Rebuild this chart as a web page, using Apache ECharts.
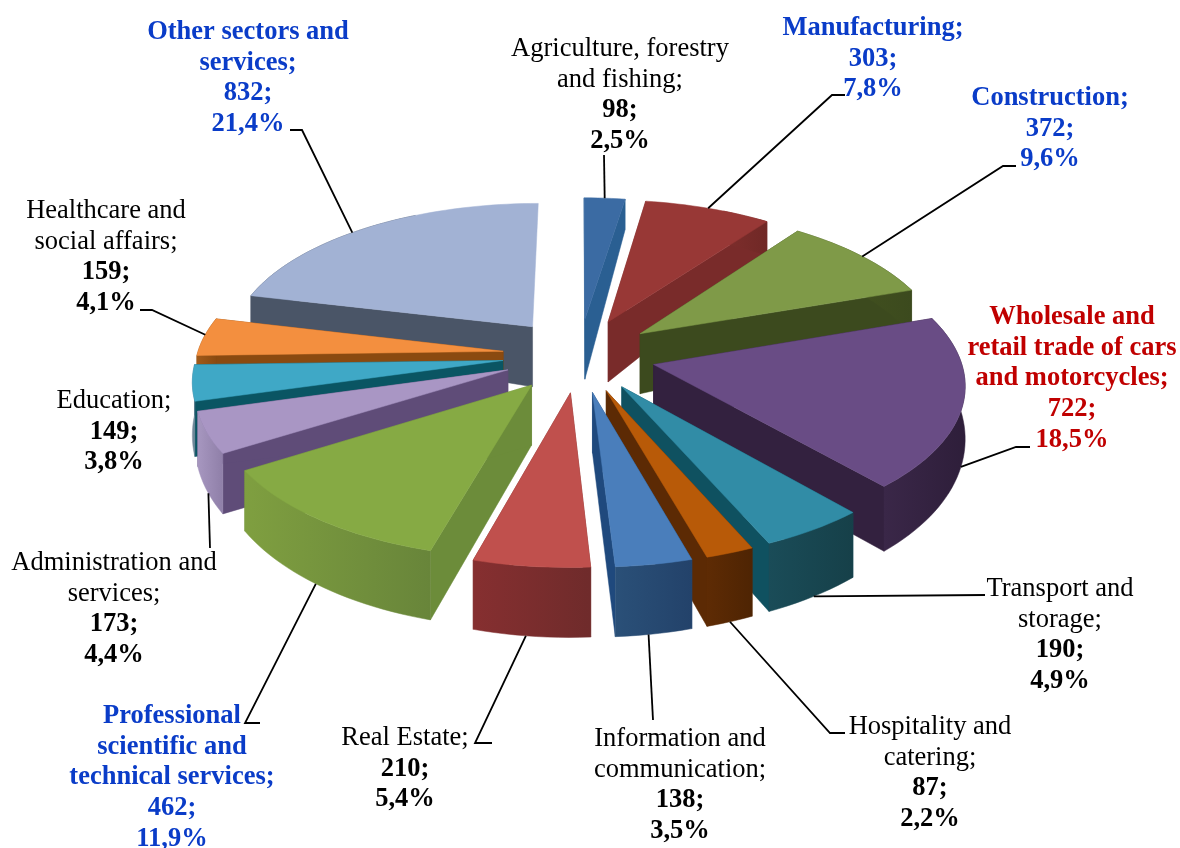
<!DOCTYPE html>
<html><head><meta charset="utf-8">
<style>html,body{margin:0;padding:0;background:#fff}#c{width:1180px;height:848px}</style>
<script src="https://cdn.jsdelivr.net/npm/echarts@6/dist/echarts.min.js"></script>
</head><body><div id="c"></div>
<script>
// ---- data ----
const categories = [
  ["Agriculture, forestry","and fishing;"],
  ["Manufacturing;"],
  ["Construction;"],
  ["Wholesale and","retail trade of cars","and motorcycles;"],
  ["Transport and","storage;"],
  ["Hospitality and","catering;"],
  ["Information and","communication;"],
  ["Real Estate;"],
  ["Professional","scientific and","technical services;"],
  ["Administration and","services;"],
  ["Education;"],
  ["Healthcare and","social affairs;"],
  ["Other sectors and","services;"]
];
const values = [98,303,372,722,190,87,138,210,462,173,149,159,832];
const shares = ["2,5%","7,8%","9,6%","18,5%","4,9%","2,2%","3,5%","5,4%","11,9%","4,4%","3,8%","4,1%","21,4%"];
// ---- styles ----
const topColors   = ["#3b6ba3","#983836","#7f9a48","#694c85","#318ca6","#b85a08","#4a7ebb","#c0504d","#86aa44","#a996c4","#3fa8c6","#f38f3f","#a2b2d4"];
const innerColors = ["#2a5f92","#792b2a","#3c4a1e","#33213f","#0f5160","#5c2a04","#1f497d","#7c2e2d","#6c8c3a","#5f4c78","#0a5563","#8a4a10","#4a5567"];
const outerLight  = ["#2f5f90","#7e2e2c","#46561f","#3a2748","#1a4c58","#5e2b04","#2a5078","#862f30","#7f9f40","#a797c0","#7f8fa0","#a05a1a","#4a5567"];
const outerDark   = ["#2a5a8c","#702826","#3c4a1e","#2e1e3a","#164049","#4e2403","#23426a","#6f2b2b","#68853a","#8f7fa8","#5f7f90","#8a4a10","#4a5567"];
const labelFill   = ["#000","#0a3cc8","#0a3cc8","#c00000","#000","#000","#000","#000","#0a3cc8","#000","#000","#000","#0a3cc8"];
const labelBold   = [false,true,true,true,false,false,false,false,true,false,false,false,true];
const labelCenter = [620,873,1050,1072,1060,930,680,405,172,114,114,106,248];
const labelFirstY = [49,28,98,317,589,727,739,738,716,563,401,211,32];
const LINE = 30.8, FONT = 26.5;
// leader: elbow points (label side), then slice index-relative rim fraction and whether it lands on the wall's lower edge
const leaders = [
  {pts:[[604,155]],frac:.47,low:false},
  {pts:[[845,95],[832,95]],frac:.5,low:false},
  {pts:[[1016,166],[1003,166]],frac:.5,low:false},
  {pts:[[1030,447],[1016,447]],frac:.55,low:true},
  {pts:[[985,595]],frac:.5,low:true},
  {pts:[[845,733],[830,733]],frac:.5,low:true},
  {pts:[[653,720]],frac:.5,low:true},
  {pts:[[492,743],[475,743]],frac:.5,low:true},
  {pts:[[260,723],[245,723]],frac:.5,low:true},
  {pts:[[210,548]],frac:.4,low:true},
  null,
  {pts:[[140,310],[152,310]],frac:.5,low:false},
  {pts:[[290,130],[302,130]],frac:.45,low:false}
];
// ---- projection of the tilted pie ----
const CX=579, CY=355, RX=306, RY=148, PERSP=.12, EXPLODE=.25;
const total = values.reduce((a,b)=>a+b,0);
const starts=[]; values.reduce((a,v,i)=>{starts[i]=a;return a+v/total*2*Math.PI;},0);
function proj(dx,dy,r,ang){
  const px=dx+r*Math.sin(ang), py=dy-r*Math.cos(ang), s=1+PERSP*py;
  return [CX+RX*px*s, CY+RY*py*s];
}
const apexH=60;
const rimH=a=>50-20*Math.cos(a);
function sliceGeom(i){
  const a0=starts[i], a1=a0+values[i]/total*2*Math.PI, m=(a0+a1)/2;
  const dx=EXPLODE*Math.sin(m), dy=-EXPLODE*Math.cos(m);
  const n=Math.max(6,Math.round((a1-a0)/.03));
  const rim=[],low=[],wallTop=[],wallLow=[];
  for(let k=0;k<=n;k++){
    const a=a0+(a1-a0)*k/n, p=proj(dx,dy,1,a), q=[p[0],p[1]+rimH(a)];
    rim.push(p); low.push(q);
    // the curved wall of the far part of the pie looks away from the viewer
    if(Math.cos(a)<.9){wallTop.push(p);wallLow.push(q);}
  }
  const apex=proj(dx,dy,0,0), apexLow=[apex[0],apex[1]+apexH];
  return {a0,a1,dx,dy,rim,low,wallTop,wallLow,apex,apexLow,depth:dy};
}
const geoms=values.map((v,i)=>sliceGeom(i));
const order=geoms.map((g,i)=>i).sort((a,b)=>geoms[a].depth-geoms[b].depth);
function renderSlice(params,api){
  const i=api.value(0), g=geoms[i], z=order.indexOf(i)*10+1;
  const poly=(points,fill,dz)=>({type:'polygon',shape:{points},z2:z+dz,style:{fill,stroke:fill,lineWidth:.5}});
  const grad={type:'linear',x:0,y:0,x2:1,y2:0,colorStops:[{offset:0,color:outerLight[i]},{offset:1,color:outerDark[i]}]};
  const last=g.rim.length-1;
  const kids=[poly([g.apex,g.rim[0],g.low[0],g.apexLow],innerColors[i],0)];
  // the face closing the last slice at 12 o'clock looks away from the viewer
  if(g.a1<2*Math.PI-.01) kids.push(poly([g.apex,g.rim[last],g.low[last],g.apexLow],innerColors[i],1));
  if(g.wallTop.length>1) kids.push(poly(g.wallTop.concat(g.wallLow.slice().reverse()),grad,2));
  kids.push(poly([g.apex].concat(g.rim),topColors[i],3));
  return {type:'group',children:kids};
}
function renderLabel(params,api){
  const i=api.value(0), kids=[];
  const name=categories[i];
  const lines=name.map(t=>({t,b:labelBold[i]})).concat([{t:values[i]+";",b:true},{t:shares[i],b:true}]);
  lines.forEach((l,k)=>kids.push({type:'text',z2:500,style:{
    x:labelCenter[i],y:labelFirstY[i]+k*LINE,text:l.t,fill:labelFill[i],align:'center',verticalAlign:'middle',
    font:(l.b?'bold ':'')+FONT+'px "Liberation Serif"'}}));
  const ld=leaders[i];
  if(ld){
    const g=geoms[i],arr=ld.low?g.low:g.rim,p=arr[Math.round(ld.frac*(arr.length-1))];
    kids.push({type:'polyline',z2:400,shape:{points:ld.pts.concat([p])},style:{stroke:'#000',lineWidth:1.8,fill:null}});
  }
  return {type:'group',children:kids};
}
const ids=values.map((v,i)=>[i,v]);
const chart=echarts.init(document.getElementById('c'),null,{renderer:'canvas'});
chart.setOption({
  animation:false,backgroundColor:'#fff',
  series:[
    {type:'custom',coordinateSystem:'none',silent:true,data:ids,renderItem:renderSlice,z:2},
    {type:'custom',coordinateSystem:'none',silent:true,data:ids,renderItem:renderLabel,z:3}
  ]
});
</script></body></html>
